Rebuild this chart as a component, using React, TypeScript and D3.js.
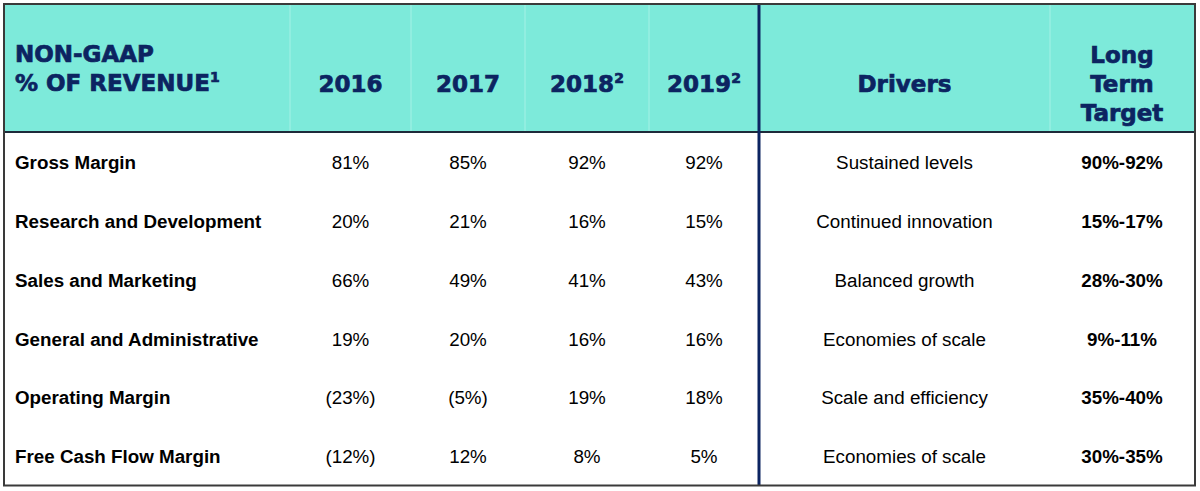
import React from "react";
import * as d3 from "d3";

const W = 1200;
const H = 491;

const metrics = [
  "Gross Margin",
  "Research and Development",
  "Sales and Marketing",
  "General and Administrative",
  "Operating Margin",
  "Free Cash Flow Margin",
];
const years = ["2016", "2017", "2018", "2019"];
const yearSup = ["", "", "2", "2"];
const v2016 = ["81%", "20%", "66%", "19%", "(23%)", "(12%)"];
const v2017 = ["85%", "21%", "49%", "20%", "(5%)", "12%"];
const v2018 = ["92%", "16%", "41%", "16%", "19%", "8%"];
const v2019 = ["92%", "15%", "43%", "16%", "18%", "5%"];
const drivers = [
  "Sustained levels",
  "Continued innovation",
  "Balanced growth",
  "Economies of scale",
  "Scale and efficiency",
  "Economies of scale",
];
const targets = ["90%-92%", "15%-17%", "28%-30%", "9%-11%", "35%-40%", "30%-35%"];

const colEdges = [5, 290, 411, 525, 649, 759, 1050, 1194];
const TEAL = "#7deada";
const NAVY = "#0c2461";
const HEAD_FONT = "'DejaVu Sans', sans-serif";
const BODY_FONT = "'Liberation Sans', Arial, sans-serif";

export default function App() {
  const top = 4;
  const headBottom = 132;
  const bottom = 485.5;
  const rowY = d3
    .scaleBand<number>()
    .domain(d3.range(metrics.length))
    .range([headBottom + 1, bottom]);
  const colCenter = (i: number) => (colEdges[i] + colEdges[i + 1]) / 2;
  const yearCols = [v2016, v2017, v2018, v2019];

  return (
    <svg
      width={W}
      height={H}
      style={{ position: "absolute", left: 0, top: 0, background: "#fff" }}
    >
      <rect x={4} y={top} width={1191} height={headBottom - top} fill={TEAL} />
      {[1, 2, 3, 4, 6].map((i) => (
        <line
          key={i}
          x1={colEdges[i]}
          x2={colEdges[i]}
          y1={top + 1}
          y2={headBottom - 1}
          stroke="#a6f1e6"
          strokeWidth={1}
        />
      ))}
      {/* header text */}
      <g
        fill={NAVY}
        stroke={NAVY}
        strokeWidth={0.7}
        fontFamily={HEAD_FONT}
        fontWeight="bold"
        fontSize={23}
      >
        <text x={15} y={62}>NON-GAAP</text>
        <text x={15} y={91}>
          % OF REVENUE<tspan fontSize={14} dy={-9}>1</tspan>
        </text>
        {years.map((y, i) => (
          <text key={y} x={colCenter(i + 1)} y={92} textAnchor="middle">
            {y}
            {yearSup[i] ? (
              <tspan fontSize={14} dy={-9}>
                {yearSup[i]}
              </tspan>
            ) : null}
          </text>
        ))}
        <text x={colCenter(5)} y={92} textAnchor="middle">Drivers</text>
        <text x={colCenter(6)} y={63} textAnchor="middle">Long</text>
        <text x={colCenter(6)} y={92} textAnchor="middle">Term</text>
        <text x={colCenter(6)} y={121} textAnchor="middle">Target</text>
      </g>
      {/* body */}
      <g fontFamily={BODY_FONT} fontSize={18.8} fill="#000">
        {metrics.map((m, r) => {
          const cy = (rowY(r) as number) + rowY.bandwidth() / 2 + 7;
          return (
            <g key={m}>
              <text x={15} y={cy} fontWeight="bold">{m}</text>
              {yearCols.map((col, c) => (
                <text key={c} x={colCenter(c + 1)} y={cy} textAnchor="middle">
                  {col[r]}
                </text>
              ))}
              <text x={colCenter(5)} y={cy} textAnchor="middle">{drivers[r]}</text>
              <text x={colCenter(6)} y={cy} textAnchor="middle" fontWeight="bold">
                {targets[r]}
              </text>
            </g>
          );
        })}
      </g>
      <line x1={4} x2={1195} y1={headBottom} y2={headBottom} stroke="#1e2a3a" strokeWidth={2} />
      <line x1={759} x2={759} y1={top} y2={bottom} stroke={NAVY} strokeWidth={3} />
      <rect
        x={4}
        y={top}
        width={1191}
        height={bottom - top}
        fill="none"
        stroke="#3a3a3a"
        strokeWidth={2}
      />
    </svg>
  );
}
